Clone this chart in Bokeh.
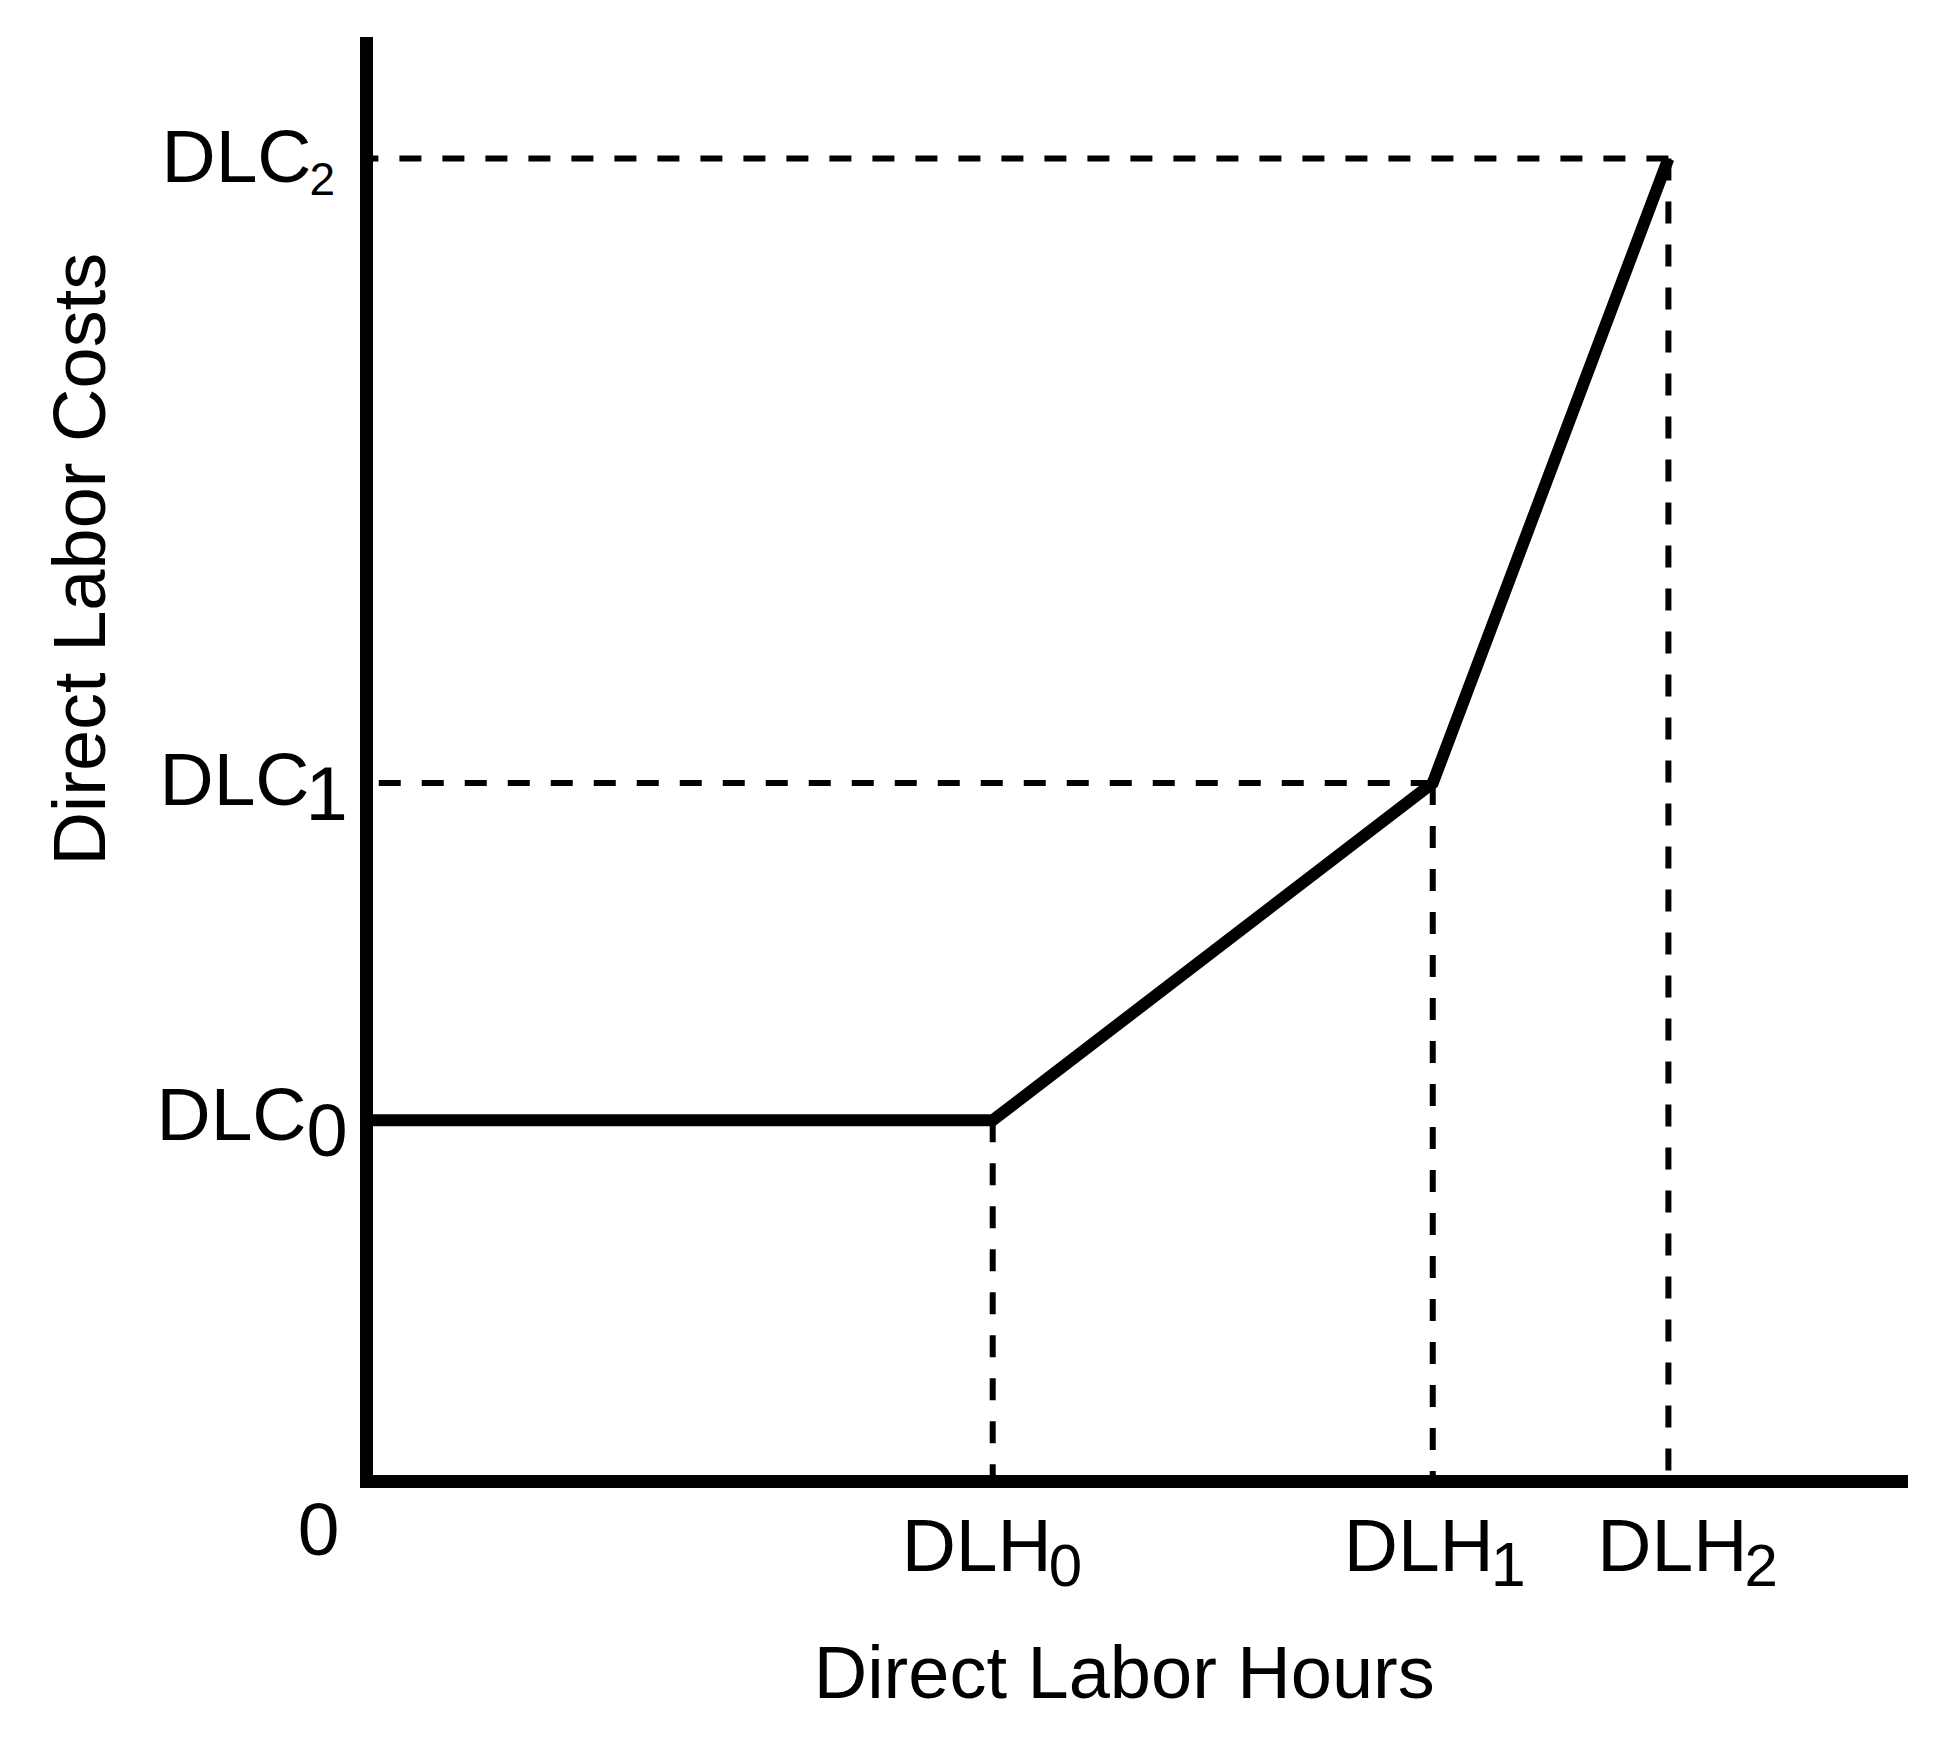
import math
from bokeh.plotting import figure
from bokeh.models import Range1d, Label
from bokeh.embed import file_html
from bokeh.resources import INLINE

# ---- data (schematic values) ----
dlh_values = [4.81, 8.19, 10.0]          # DLH0, DLH1, DLH2 on the hours axis
dlc_values = [2.73, 5.28, 10.0]          # DLC0, DLC1, DLC2 on the cost axis
hour_main = ["DLH", "DLH", "DLH"]
hour_subs = ["0", "1", "2"]
cost_main = ["DLC", "DLC", "DLC"]
cost_subs = ["0", "1", "2"]
origin_text = "0"
x_title = "Direct Labor Hours"
y_title = "Direct Labor Costs"
x_axis_end = 11.84                        # where the drawn hours axis stops
y_axis_end = 10.92                        # where the drawn cost axis stops

# ---- layout / styles ----
W, H = 1936, 1741
ORIGIN_PX = (366, 1481)                   # screen position of the origin
PX_PER_X = 130.19
PX_PER_Y = 132.29
x_start = -ORIGIN_PX[0] / PX_PER_X
x_end = (W - ORIGIN_PX[0]) / PX_PER_X
y_start = -(H - ORIGIN_PX[1]) / PX_PER_Y
y_end = ORIGIN_PX[1] / PX_PER_Y

FONT = "Liberation Sans"
MAIN = 75
LIFT = 0.38                               # baseline correction (fraction of font size)


def lift(size):
    return LIFT * size


cost_main_dx = [-60, -57, -55]
cost_main_dy = [-22, -24, -26]
cost_sub_dx = [-60, -61, -57]
cost_sub_dy = [-38, -39, -38]
cost_sub_size = [74, 76, 46]
hour_main_dx = [59, 61, 79]
hour_sub_size = [60, 63, 60]

p = figure(width=W, height=H, output_backend="svg", toolbar_location=None,
           x_range=Range1d(x_start, x_end), y_range=Range1d(y_start, y_end),
           x_axis_location=None, y_axis_location=None, title=None,
           min_border=0)
p.outline_line_color = None
p.grid.visible = False
p.background_fill_color = "white"
p.border_fill_color = "white"

# axes (drawn as one L-shaped line through the origin)
p.line([0, 0, x_axis_end], [y_axis_end, 0, 0], line_color="black",
       line_width=13, line_join="miter")

# dashed guide lines (from each kink back to both axes)
xs = [[h, 0] for h in dlh_values] + [[h, h] for h in dlh_values]
ys = [[c, c] for c in dlc_values] + [[c, 0] for c in dlc_values]
p.multi_line(xs=xs, ys=ys, line_color="black", line_width=6, line_dash="22 21")

# piecewise cost curve
curve_x = [0] + dlh_values
curve_y = [dlc_values[0]] + dlc_values
p.line(curve_x, curve_y, line_color="black", line_width=12, line_join="miter")


def add_text(x, y, text, size, align, dx, dy, angle=0.0):
    p.add_layout(Label(x=x, y=y, text=text, text_align=align,
                       text_baseline="alphabetic", x_offset=dx, y_offset=dy,
                       angle=angle, text_font=FONT, text_font_size=f"{size}px",
                       text_color="black"))


# cost labels (left of y axis)
for i, c in enumerate(dlc_values):
    add_text(0, c, cost_main[i], MAIN, "right", cost_main_dx[i],
             cost_main_dy[i] + lift(MAIN))
    add_text(0, c, cost_subs[i], cost_sub_size[i], "left", cost_sub_dx[i],
             cost_sub_dy[i] + lift(cost_sub_size[i]))

# hour labels (below x axis)
for i, h in enumerate(dlh_values):
    add_text(h, 0, hour_main[i], MAIN, "right", hour_main_dx[i],
             -92 + lift(MAIN))
    add_text(h, 0, hour_subs[i], hour_sub_size[i], "left", hour_main_dx[i] - 3,
             -107 + lift(hour_sub_size[i]))

# origin
add_text(0, 0, origin_text, MAIN, "center", -48, -76 + lift(MAIN))

# axis titles
add_text(x_axis_end / 2, 0, x_title, 74, "center", -13, -219 + lift(74))
add_text(0, y_axis_end / 2, y_title, 74, "center", -259 - lift(74), 200,
         angle=math.pi / 2)

open("out.html", "w").write(file_html(p, INLINE))
